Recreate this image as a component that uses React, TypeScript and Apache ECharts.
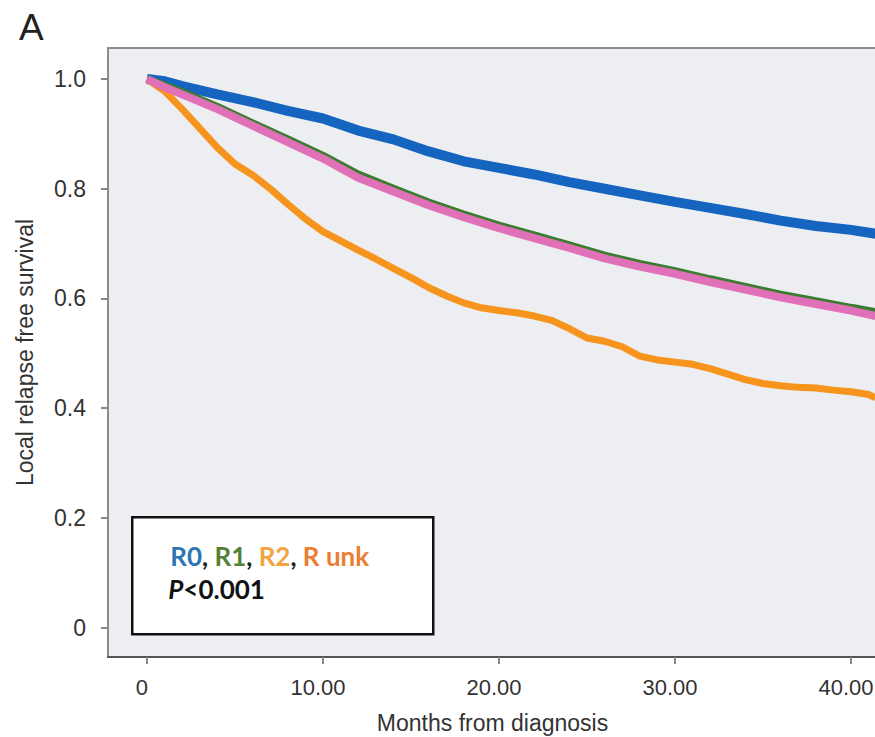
import React, { useEffect, useRef } from "react";
import * as echarts from "echarts";

// Months from diagnosis (shared grid for R0, R1, R unk)
const monthsA = [0, 1, 2, 4, 6, 8, 10, 12, 14, 16, 18, 20, 22, 24, 26, 28, 30, 32, 34, 36, 38, 40, 41.4];
const survR0 = [1.0, 0.996, 0.987, 0.972, 0.958, 0.942, 0.928, 0.906, 0.89, 0.868, 0.85, 0.838, 0.826, 0.812, 0.8, 0.788, 0.776, 0.765, 0.754, 0.742, 0.732, 0.725, 0.718];
const survR1 = [1.0, 0.988, 0.976, 0.949, 0.919, 0.89, 0.86, 0.826, 0.8, 0.775, 0.753, 0.733, 0.715, 0.697, 0.678, 0.663, 0.65, 0.635, 0.621, 0.607, 0.595, 0.583, 0.575];
const survRunk = [1.0, 0.985, 0.972, 0.945, 0.915, 0.885, 0.855, 0.82, 0.795, 0.77, 0.748, 0.728, 0.71, 0.692, 0.673, 0.658, 0.645, 0.63, 0.616, 0.602, 0.59, 0.578, 0.568];

// R2 (own time grid)
const monthsR2 = [0, 1, 2, 3, 4, 5, 6, 7, 8, 9, 10, 11, 12, 13, 14, 15, 16, 17, 18, 19, 20, 21, 22, 23, 24, 25, 26, 27, 28, 29, 30, 31, 32, 33, 34, 35, 36, 37, 38, 39, 40, 41, 41.4];
const survR2 = [1.0, 0.978, 0.945, 0.91, 0.875, 0.845, 0.825, 0.8, 0.772, 0.745, 0.722, 0.705, 0.688, 0.672, 0.655, 0.638, 0.62, 0.605, 0.592, 0.583, 0.578, 0.574, 0.568, 0.56, 0.545, 0.528, 0.522, 0.512, 0.495, 0.488, 0.484, 0.48, 0.472, 0.462, 0.452, 0.445, 0.441, 0.438, 0.437, 0.433, 0.43, 0.425, 0.419];

const xTicks = [0, 10, 20, 30, 40];
const yTicks = [0, 0.2, 0.4, 0.6, 0.8, 1.0];

const legendParts = [
  { key: "r0", text: "R0", color: "#2e75b6" },
  { key: "sep", text: ", ", color: "#222222" },
  { key: "r1", text: "R1", color: "#548235" },
  { key: "sep", text: ", ", color: "#222222" },
  { key: "r2", text: "R2", color: "#f4a340" },
  { key: "sep", text: ", ", color: "#222222" },
  { key: "ru", text: "R unk", color: "#ed7d31" },
];

const zip = (xs: number[], ys: number[]) => xs.map((x, i) => [x, ys[i]]);

export default function App() {
  const ref = useRef<HTMLDivElement>(null);
  useEffect(() => {
    if (!ref.current) return;
    const chart = echarts.init(ref.current, undefined, { renderer: "svg" });
    const font = "'Liberation Sans', Arial, sans-serif";
    const lfs = 26;
    const rich: any = {};
    legendParts.forEach((p) => {
      rich[p.key] = { fontFamily: "Lato, sans-serif", fontWeight: "bold", fontSize: lfs, fill: p.color, color: p.color };
    });
    const legendText = legendParts.map((p) => `{${p.key}|${p.text}}`).join("");
    chart.setOption({
      animation: false,
      backgroundColor: "#ffffff",
      grid: {
        left: 108,
        top: 48,
        right: -2,
        bottom: 80,
        containLabel: false,
        outerBoundsMode: "none",
        show: true,
        backgroundColor: "#eceef1",
        borderColor: "#8c8c8c",
        borderWidth: 2,
      },
      xAxis: {
        type: "value",
        min: -2.216,
        max: 41.48,
        name: "Months from diagnosis",
        nameLocation: "middle",
        nameGap: 56,
        nameTextStyle: { fontFamily: font, fontSize: 23, color: "#333", lineHeight: 20 },
        splitLine: { show: false },
        axisLine: { show: true, onZero: false, lineStyle: { color: "#555", width: 2 } },
        axisTick: { show: true, customValues: xTicks, length: 7, lineStyle: { color: "#888", width: 2 } },
        axisLabel: {
          customValues: xTicks,
          margin: 19,
          padding: [0, 10, 0, 0],
          fontFamily: font,
          fontSize: 22,
          color: "#333",
          formatter: (v: number) => (v === 0 ? "0" : v.toFixed(2)),
        },
      },
      yAxis: {
        type: "value",
        min: -0.0534,
        max: 1.0565,
        name: "Local relapse free survival",
        nameLocation: "middle",
        nameGap: 72,
        nameTextStyle: { fontFamily: font, fontSize: 23, color: "#333" },
        splitLine: { show: false },
        axisLine: { show: true, onZero: false, lineStyle: { color: "#8c8c8c", width: 2 } },
        axisTick: { show: true, customValues: yTicks, length: 7, lineStyle: { color: "#888", width: 2 } },
        axisLabel: {
          customValues: yTicks,
          margin: 22,
          fontFamily: font,
          fontSize: 23,
          color: "#333",
          formatter: (v: number) => (v === 0 ? "0" : v.toFixed(1)),
        },
      },
      series: [
        { name: "R0", type: "line", data: zip(monthsA, survR0), showSymbol: false, lineStyle: { color: "#1565c0", width: 10 }, z: 3 },
        { name: "R2", type: "line", data: zip(monthsR2, survR2), showSymbol: false, lineStyle: { color: "#f7941d", width: 7 }, z: 3 },
        { name: "R1", type: "line", data: zip(monthsA, survR1), showSymbol: false, lineStyle: { color: "#3b7d2e", width: 8 }, z: 3 },
        { name: "R unk", type: "line", data: zip(monthsA, survRunk), showSymbol: false, lineStyle: { color: "#e070b8", width: 8 }, z: 4 },
      ],
      graphic: [
        {
          type: "text",
          left: 19,
          top: 9,
          style: { text: "A", fontFamily: font, fontSize: 37, fill: "#222" },
        },
        {
          type: "group",
          left: 131,
          top: 516,
          children: [
            {
              type: "rect",
              shape: { x: 0, y: 0, width: 301, height: 117 },
              style: { fill: "#ffffff", stroke: "#111", lineWidth: 2.5 },
            },
            {
              type: "text",
              x: 38,
              y: 26,
              style: { text: legendText, rich, fontFamily: "Lato, sans-serif", fontWeight: "bold", fontSize: lfs },
            },
            {
              type: "text",
              x: 36,
              y: 59,
              style: {
                text: "{p|P}{r|<0.001}",
                rich: {
                  p: { fontFamily: "Lato, sans-serif", fontWeight: "bold", fontStyle: "italic", fontSize: lfs, fill: "#111" },
                  r: { fontFamily: "Lato, sans-serif", fontWeight: "bold", fontSize: lfs, fill: "#111" },
                },
              },
            },
          ],
          z: 10,
        },
      ],
    });
    return () => chart.dispose();
  }, []);
  return <div ref={ref} style={{ position: "absolute", left: 0, top: 0, width: 875, height: 737 }} />;
}
